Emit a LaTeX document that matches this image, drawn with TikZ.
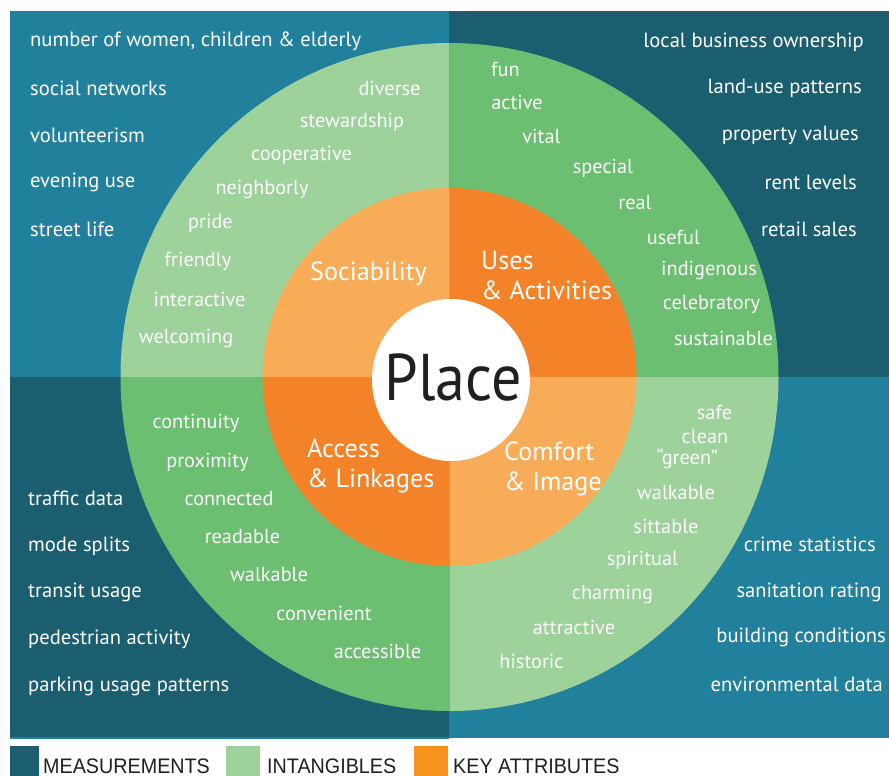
\documentclass[tikz,border=0pt]{standalone}
\usepackage{fontspec}
\setmainfont{PT Sans}
\newfontfamily\placefont[FakeStretch=0.91]{PT Sans}
\newfontfamily\legendfont[FakeStretch=0.94]{Liberation Sans}
\definecolor{tealL}{RGB}{33,128,155}
\definecolor{tealD}{RGB}{26,94,111}
\definecolor{greenL}{RGB}{158,210,155}
\definecolor{greenM}{RGB}{108,191,112}
\definecolor{orangeL}{RGB}{249,172,87}
\definecolor{orangeD}{RGB}{244,130,41}
\definecolor{orangeLeg}{RGB}{247,148,30}
\definecolor{inkdark}{RGB}{35,31,32}
\begin{document}
\begin{tikzpicture}[x=1pt,y=-1pt,
  word/.style={text=white,inner sep=0pt,font=\fontsize{20.3}{24}\selectfont},
  meas/.style={text=white,inner sep=0pt,font=\fontsize{20.6}{24}\selectfont},
  keyattr/.style={text=white,inner sep=0pt,align=left,anchor=west,font=\fontsize{26.2}{30}\selectfont},
  legtext/.style={text=inkdark,inner sep=0pt,anchor=base west,font=\legendfont\fontsize{21}{24}\selectfont}]
\useasboundingbox (0,0) rectangle (889,776);
\fill[white] (0,0) rectangle (889,776);
% background quadrants
\fill[tealL] (10,11) rectangle (449,377);
\fill[tealD] (449,11) rectangle (889,377);
\fill[tealD] (10,377) rectangle (449,738);
\fill[tealL] (449,377) rectangle (889,738);
\fill[tealL] (10,737) rectangle (449,738.5);
\coordinate (c) at (449.5,377);
% intangibles ring
\fill[greenL] (c) -- ++(180:329 and 334) arc[start angle=180,end angle=270,x radius=329,y radius=334] -- cycle;
\fill[greenM] (c) -- ++(270:329 and 334) arc[start angle=270,end angle=360,x radius=329,y radius=334] -- cycle;
\fill[greenM] (c) -- ++(90:329 and 334) arc[start angle=90,end angle=180,x radius=329,y radius=334] -- cycle;
\fill[greenL] (c) -- ++(0:329 and 334) arc[start angle=0,end angle=90,x radius=329,y radius=334] -- cycle;
% key attributes ring
\fill[orangeL] (c) -- ++(180:187 and 189) arc[start angle=180,end angle=270,x radius=187,y radius=189] -- cycle;
\fill[orangeD] (c) -- ++(270:187 and 189) arc[start angle=270,end angle=360,x radius=187,y radius=189] -- cycle;
\fill[orangeD] (c) -- ++(90:187 and 189) arc[start angle=90,end angle=180,x radius=187,y radius=189] -- cycle;
\fill[orangeL] (c) -- ++(0:187 and 189) arc[start angle=0,end angle=90,x radius=187,y radius=189] -- cycle;
% centre
\fill[white] (451,380) ellipse[x radius=79,y radius=81];
\node[inner sep=0pt,anchor=base,text=inkdark,font=\placefont\fontsize{66}{70}\selectfont] (place) at (453,400) {Place};
% key attributes
\node[keyattr] (soc) at (310,274) {Sociability};
\node[keyattr] (uses) at (481,275) {Uses\\\& Activities};
\node[keyattr] (acc) at (307,465.5) {Access\\\& Linkages};
\node[keyattr] (com) at (504,469) {Comfort\\\& Image};
% measurements top-left
\node[meas,anchor=west] (m1) at (30,41) {number of women, children \& elderly};
\node[meas,anchor=west] (m2) at (30,88) {social networks};
\node[meas,anchor=west] (m3) at (30,135) {volunteerism};
\node[meas,anchor=west] (m4) at (30,182) {evening use};
\node[meas,anchor=west] (m5) at (30,229) {street life};
% measurements top-right
\node[meas,anchor=east] (m6) at (864,42) {local business ownership};
\node[meas,anchor=east] (m7) at (862,88) {land-use patterns};
\node[meas,anchor=east] (m8) at (859,135) {property values};
\node[meas,anchor=east] (m9) at (857,182) {rent levels};
\node[meas,anchor=east] (m10) at (857,229) {retail sales};
% measurements bottom-left
\node[meas,anchor=west] (m11) at (28,498) {traffic data};
\node[meas,anchor=west] (m12) at (28,546) {mode splits};
\node[meas,anchor=west] (m13) at (28,592) {transit usage};
\node[meas,anchor=west] (m14) at (28,639) {pedestrian activity};
\node[meas,anchor=west] (m15) at (28,686) {parking usage patterns};
% measurements bottom-right
\node[meas,anchor=east] (m16) at (876,544) {crime statistics};
\node[meas,anchor=east] (m17) at (882,592) {sanitation rating};
\node[meas,anchor=east] (m18) at (886,637) {building conditions};
\node[meas,anchor=east] (m19) at (883,684) {environmental data};
% intangibles sociability
\node[word] (i1) at (389.5,88) {diverse};
\node[word] (i2) at (352,122) {stewardship};
\node[word] (i3) at (301.5,155) {cooperative};
\node[word] (i4) at (262,189) {neighborly};
\node[word] (i5) at (210.5,223) {pride};
\node[word] (i6) at (198,261) {friendly};
\node[word] (i7) at (199.5,299) {interactive};
\node[word] (i8) at (186,338) {welcoming};
% intangibles uses
\node[word] (u1) at (505.5,69) {fun};
\node[word] (u2) at (517,102) {active};
\node[word] (u3) at (541.5,136) {vital};
\node[word] (u4) at (603,168) {special};
\node[word] (u5) at (635,203) {real};
\node[word] (u6) at (673.5,237) {useful};
\node[word] (u7) at (709,270) {indigenous};
\node[word] (u8) at (711.5,304) {celebratory};
\node[word] (u9) at (723.5,338) {sustainable};
% intangibles access
\node[word] (a1) at (196,423) {continuity};
\node[word] (a2) at (207.5,462) {proximity};
\node[word] (a3) at (229,499) {connected};
\node[word] (a4) at (242.5,537) {readable};
\node[word] (a5) at (269,575) {walkable};
\node[word] (a6) at (324,613) {convenient};
\node[word] (a7) at (377.5,651) {accessible};
% intangibles comfort
\node[word] (c1) at (714.5,412) {safe};
\node[word] (c2) at (705,437) {clean};
\node[word] (c3) at (687.5,459) {“green”};
\node[word] (c4) at (676,493) {walkable};
\node[word] (c5) at (666,526) {sittable};
\node[word] (c6) at (642.5,560) {spiritual};
\node[word] (c7) at (612.5,594) {charming};
\node[word] (c8) at (574,627) {attractive};
\node[word] (c9) at (531.5,661) {historic};
% legend
\fill[tealD] (10,746) rectangle (39,776);
\fill[greenL] (226,746) rectangle (260,776);
\fill[orangeLeg] (414,746) rectangle (448,776);
\node[legtext] (l1) at (43,773) {MEASUREMENTS};
\node[legtext] (l2) at (267,773) {INTANGIBLES};
\node[legtext] (l3) at (453,773) {KEY ATTRIBUTES};
\end{tikzpicture}
\end{document}
